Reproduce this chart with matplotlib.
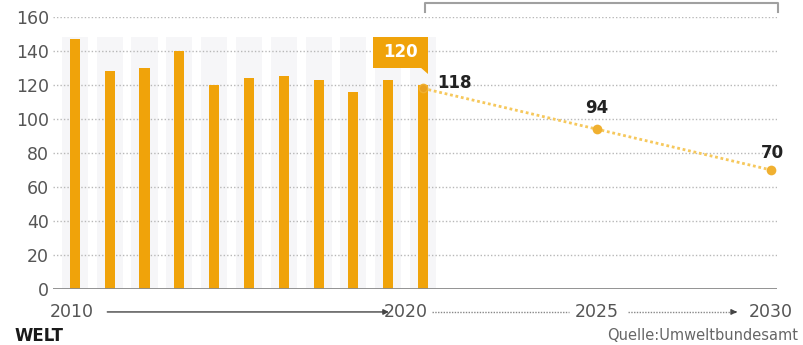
import numpy as np
import matplotlib.pyplot as plt
from matplotlib.patches import FancyBboxPatch, Polygon

# data
years = np.arange(2010, 2021)
emissions = [147, 128, 130, 140, 120, 124, 125, 123, 116, 123, 120]
backdrop = [148] * len(years)
target_years = [2020, 2025, 2030]
target_values = [118, 94, 70]
yticks = [0, 20, 40, 60, 80, 100, 120, 140, 160]
xlabels = {2010: "2010", 2020: "2020", 2025: "2025", 2030: "2030"}

orange = "#f0a30a"
light_orange = "#f6c85c"
text_grey = "#555555"

fig = plt.figure(figsize=(8.04, 3.45), dpi=100)
ax = fig.add_axes([53 / 804, 1 - 289 / 345, 724 / 804, 272 / 345])
ax.set_xlim(2009.37, 2030.17)
ax.set_ylim(0, 160)

# light backdrop columns, grid, bars
ax.bar(years, backdrop, width=0.75, color="#f6f6f8", zorder=0)
for y in yticks[1:]:
    ax.axhline(y, color="#b8b8b8", lw=1.0, ls=(0, (1, 1.5)), zorder=1)
ax.axhline(0, color="#8a8a8a", lw=1.3, zorder=3)
ax.bar(years, emissions, width=0.29, color=orange, zorder=2)

# target path
ax.plot(target_years, target_values, color=light_orange, lw=2, ls=(0, (1, 1)), zorder=4)
ax.plot(target_years, target_values, "o", color="#f0b030", ms=7, mec="none", zorder=5)
ax.plot(target_years[0], target_values[0], "o", color="#e8a020", ms=5, mec="none", zorder=5)
offsets = [(0.4, 3), (0.0, 12.5), (0.05, 10)]
for x, v, (dx, dy), ha in zip(target_years, target_values, offsets, ["left", "center", "center"]):
    ax.text(x + dx, v + dy, str(v), ha=ha, va="center", fontsize=12, fontweight="bold",
            color="#222222", zorder=6)

# highlight box for the 2020 value
box = FancyBboxPatch((2018.55, 130), 1.6, 18.5, boxstyle="square,pad=0", fc=orange,
                     ec="none", zorder=6, clip_on=False)
ax.add_patch(box)
ax.add_patch(Polygon([[2019.92, 130.5], [2020.15, 130.5], [2020.15, 126.5]], closed=True,
                     fc=orange, ec="none", zorder=6, clip_on=False))
ax.text(2019.35, 139.5, str(emissions[-1]), ha="center", va="center", fontsize=12,
        fontweight="bold", color="white", zorder=7)

# axes cosmetics
for s in ax.spines.values():
    s.set_visible(False)
ax.set_yticks(yticks)
ax.tick_params(axis="y", length=0, pad=3, labelsize=12.5, labelcolor=text_grey)
ax.set_xticks([])

# x labels with arrows
ylab = -13.5
for x, lab in xlabels.items():
    dx = -0.5 if x == 2020 else (-0.1 if x == 2010 else 0)
    ax.text(x + dx, ylab, lab, ha="center", va="center", fontsize=12.5, color=text_grey,
            clip_on=False)
ax.annotate("", xy=(2019.1, ylab), xytext=(2010.85, ylab), xycoords="data",
            arrowprops=dict(arrowstyle="-|>", color="#444444", lw=1.0, mutation_scale=8),
            annotation_clip=False)
ax.plot([2020.25, 2024.2], [ylab, ylab], color="#888888", lw=1.0, ls=(0, (1, 1)), clip_on=False)
ax.plot([2025.9, 2029.0], [ylab, ylab], color="#888888", lw=1.0, ls=(0, (1, 1)), clip_on=False)
ax.annotate("", xy=(2029.1, ylab), xytext=(2028.9, ylab), xycoords="data",
            arrowprops=dict(arrowstyle="-|>", color="#444444", lw=1.0, mutation_scale=8),
            annotation_clip=False)

# bracket over the target period
ax.plot([2020.05, 2020.05, 2030.2, 2030.2], [163, 168.2, 168.2, 163], color="#a0a0a0",
        lw=1.5, clip_on=False)

fig.text(15 / 804, 1 - 336 / 345, "WELT", fontsize=12, fontweight="heavy", color="#1a1a1a",
         va="center", ha="left")
fig.text(798 / 804, 1 - 335 / 345, "Quelle:Umweltbundesamt", fontsize=10.5, color="#666666",
         va="center", ha="right")

fig.savefig("out.png", dpi=100)
